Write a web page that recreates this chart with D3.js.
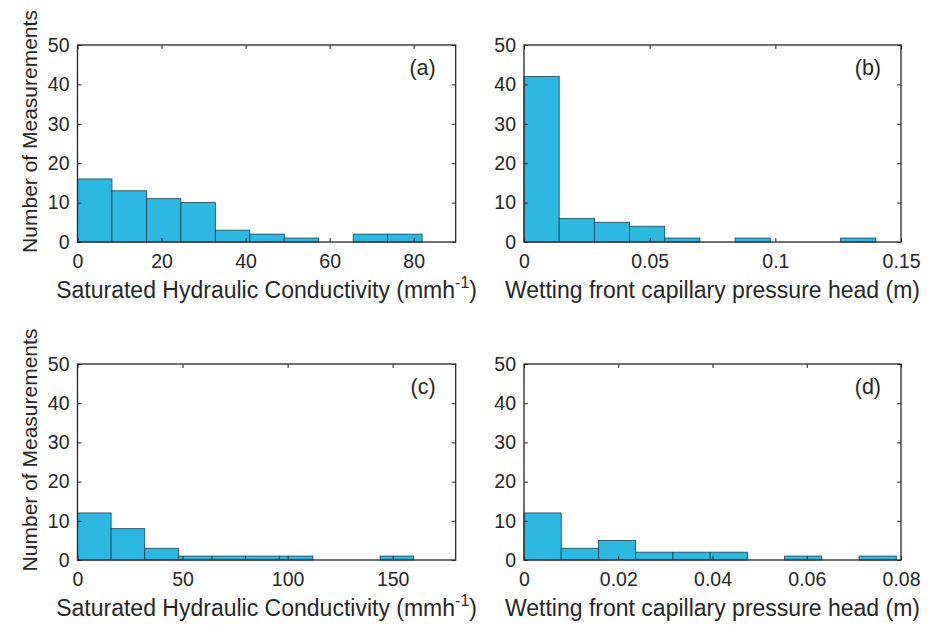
<!DOCTYPE html>
<html>
<head>
<meta charset="utf-8">
<script src="https://cdn.jsdelivr.net/npm/d3@7"></script>
<style>
  body { margin: 0; background: #fff; }
  text { font-family: Arial, "Liberation Sans", Helvetica, sans-serif; fill: #262626; }
</style>
</head>
<body>
<script>
// histogram counts (zero bins included)
const countsA = [16, 13, 11, 10, 3, 2, 1, 0, 2, 2];
const countsB = [42, 6, 5, 4, 1, 0, 1, 0, 0, 1];
const countsC = [12, 8, 3, 1, 1, 1, 1, 0, 0, 1];
const countsD = [12, 3, 5, 2, 2, 2, 0, 1, 0, 1];

// bin widths (first edge at 0)
const binWidthA = 8.2;
const binWidthB = 0.014;
const binWidthC = 16;
const binWidthD = 0.0079;

// axis limits + ticks
const xDomainA = [0, 90],   xTicksA = [0, 20, 40, 60, 80];
const xDomainB = [0, 0.15], xTicksB = [0, 0.05, 0.1, 0.15];
const xDomainC = [0, 180],  xTicksC = [0, 50, 100, 150];
const xDomainD = [0, 0.08], xTicksD = [0, 0.02, 0.04, 0.06, 0.08];
const yDomain = [0, 50],    yTicks = [0, 10, 20, 30, 40, 50];

const labelK = "Saturated Hydraulic Conductivity (mmh";
const labelH = "Wetting front capillary pressure head (m)";
const labelY = "Number of Measurements";

const W = 932, H = 625;
const svg = d3.select("body").append("svg")
  .attr("width", W)
  .attr("height", H);

const panels = [
  { tag: "(a)", counts: countsA, bw: binWidthA, dom: xDomainA, ticks: xTicksA, xl: "k",
    left: 77.5, right: 455.7, top: 45, bottom: 242 },
  { tag: "(b)", counts: countsB, bw: binWidthB, dom: xDomainB, ticks: xTicksB, xl: "h",
    left: 524, right: 901, top: 45, bottom: 242 },
  { tag: "(c)", counts: countsC, bw: binWidthC, dom: xDomainC, ticks: xTicksC, xl: "k",
    left: 77.5, right: 455.7, top: 364, bottom: 560 },
  { tag: "(d)", counts: countsD, bw: binWidthD, dom: xDomainD, ticks: xTicksD, xl: "h",
    left: 524, right: 901, top: 364, bottom: 560 },
];

const axisColor = "#262626";

panels.forEach(p => {
  const x = d3.scaleLinear().domain(p.dom).range([p.left, p.right]);
  const y = d3.scaleLinear().domain(yDomain).range([p.bottom, p.top]);
  const g = svg.append("g");

  const bins = p.counts.map((c, i) => ({ x0: i * p.bw, x1: (i + 1) * p.bw, n: c }))
    .filter(b => b.n > 0);

  g.selectAll("rect.bar")
    .data(bins)
    .enter()
    .append("rect")
      .attr("class", "bar")
      .attr("x", d => x(d.x0))
      .attr("width", d => x(d.x1) - x(d.x0))
      .attr("y", d => y(d.n))
      .attr("height", d => y(0) - y(d.n))
      .attr("fill", "#2bb9e1")
      .attr("stroke", "#1d3f4f")
      .attr("stroke-width", 0.8);

  // inward ticks on all four sides (matlab box style)
  const fmt = d => String(d);
  const bottomAxis = g.append("g")
    .attr("transform", `translate(0,${p.bottom})`)
    .call(d3.axisBottom(x).tickValues(p.ticks).tickSizeInner(-4).tickSizeOuter(0).tickPadding(12.5).tickFormat(fmt));
  const topAxis = g.append("g")
    .attr("transform", `translate(0,${p.top})`)
    .call(d3.axisTop(x).tickValues(p.ticks).tickSizeInner(-4).tickSizeOuter(0).tickFormat(""));
  const leftAxis = g.append("g")
    .attr("transform", `translate(${p.left},0)`)
    .call(d3.axisLeft(y).tickValues(yTicks).tickSizeInner(-4).tickSizeOuter(0).tickPadding(8).tickFormat(fmt));
  const rightAxis = g.append("g")
    .attr("transform", `translate(${p.right},0)`)
    .call(d3.axisRight(y).tickValues(yTicks).tickSizeInner(-4).tickSizeOuter(0).tickFormat(""));

  [bottomAxis, topAxis, leftAxis, rightAxis].forEach(a => {
    a.select(".domain").remove();
    a.selectAll(".tick line").attr("stroke", axisColor).attr("stroke-width", 1);
    a.selectAll(".tick text")
      .attr("font-size", 19.5)
      .attr("font-family", "Arial, 'Liberation Sans', sans-serif")
      .attr("fill", axisColor);
  });

  g.append("rect")
    .attr("x", p.left)
    .attr("y", p.top)
    .attr("width", p.right - p.left)
    .attr("height", p.bottom - p.top)
    .attr("fill", "none")
    .attr("stroke", axisColor)
    .attr("stroke-width", 1.3);

  // panel tag
  g.append("text")
    .attr("x", p.right - 20)
    .attr("y", p.top + 30)
    .attr("text-anchor", "end")
    .attr("font-size", 21.5)
    .text(p.tag);

  // x label
  const cx = (p.left + p.right) / 2;
  const xl = g.append("text")
    .attr("x", cx)
    .attr("y", p.bottom + 56)
    .attr("text-anchor", "middle")
    .attr("font-size", 23);
  if (p.xl === "k") {
    xl.append("tspan").text(labelK);
    xl.append("tspan").attr("font-size", 16).attr("dy", -10).text("-1");
    xl.append("tspan").attr("dy", 10).text(")");
  } else {
    xl.text(labelH);
  }

  // y label only on left panels
  if (p.left < 100) {
    const cy = (p.top + p.bottom) / 2 - 12;
    g.append("text")
      .attr("transform", `translate(37,${cy}) rotate(-90)`)
      .attr("text-anchor", "middle")
      .attr("font-size", 21)
      .text(labelY);
  }
});
</script>
</body>
</html>
